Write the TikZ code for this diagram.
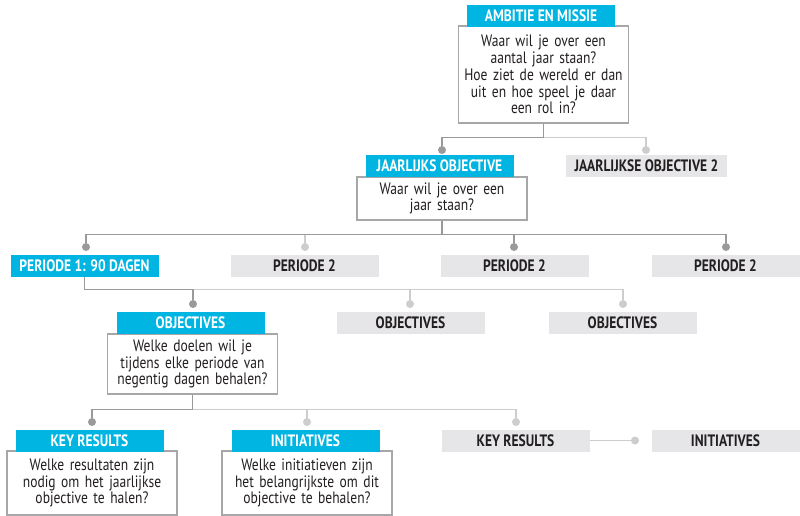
\documentclass[tikz,border=0pt]{standalone}
\usepackage{fontspec}
\setmainfont{PT Sans}[FakeStretch=0.82]
\usetikzlibrary{positioning}

\definecolor{okrblue}{HTML}{00B5E2}
\definecolor{okrgrey}{HTML}{E6E6E8}
\definecolor{okrtext}{HTML}{231F20}
\definecolor{linedark}{HTML}{9A9A9C}
\definecolor{linelight}{HTML}{CDCDCF}
\definecolor{boxline}{HTML}{A7A7A9}

\tikzset{
  head/.style={minimum width=148pt, minimum height=22pt, inner sep=0pt, font=\bfseries\fontsize{16.5}{18}\selectfont},
  bluehead/.style={head, fill=okrblue, text=white},
  greyhead/.style={head, fill=okrgrey, text=okrtext},
  question/.style={draw=boxline, line width=1.3pt, fill=white, text=okrtext, text width=162pt, align=center, inner sep=4pt, font=\fontsize{16.5}{16.8}\selectfont},
  darkdot/.style={circle, fill=linedark, inner sep=0pt, minimum size=8pt},
  lightdot/.style={circle, fill=linelight, inner sep=0pt, minimum size=8pt},
  darkline/.style={draw=linedark, line width=1.4pt},
  lightline/.style={draw=linelight, line width=1.4pt}
}

\begin{document}
\begin{tikzpicture}[x=1pt, y=-1pt]
        \useasboundingbox (0,0) rectangle (800,516);

        % ambitie
        \node[question, minimum height=97pt] (ambq) at (543.5,74.5) {Waar wil je over een\\ aantal jaar staan?\\ Hoe ziet de wereld er dan\\ uit en hoe speel je daar\\ een rol in?};
        \node[bluehead] (amb) at (541,16) {AMBITIE EN MISSIE};

        % jaar
        \node[question, minimum height=43pt] (jaarq) at (442,198.5) {Waar wil je over een\\ jaar staan?};
        \node[bluehead] (jaar) at (439.5,166) {JAARLIJKS OBJECTIVE};
        \node[greyhead, minimum width=161pt] (jaar2) at (646.5,166) {JAARLIJKSE OBJECTIVE 2};

        % periodes
        \node[bluehead] (per1) at (84.5,265.5) {PERIODE 1: 90 DAGEN};
        \node[greyhead] (per2) at (304.5,265.5) {PERIODE 2};
        \node[greyhead] (per3) at (514.5,265.5) {PERIODE 2};
        \node[greyhead] (per4) at (725.5,265.5) {PERIODE 2};

        % objectives
        \node[question, minimum height=60pt] (objq) at (192.5,364) {Welke doelen wil je\\ tijdens elke periode van\\ negentig dagen behalen?};
        \node[bluehead] (obj) at (190.5,323) {OBJECTIVES};
        \node[greyhead] (obj2) at (410.5,323) {OBJECTIVES};
        \node[greyhead] (obj3) at (622.5,323) {OBJECTIVES};

        % key results en initiatives
        \node[question, minimum height=64pt] (krq) at (92,483) {Welke resultaten zijn\\ nodig om het jaarlijkse\\ objective te halen?};
        \node[bluehead] (kr) at (89.5,440.5) {KEY RESULTS};
        \node[question, minimum height=64pt] (iniq) at (307,483) {Welke initiatieven zijn\\ het belangrijkste om dit\\ objective te behalen?};
        \node[bluehead] (ini) at (305.5,440.5) {INITIATIVES};
        \node[greyhead] (kr2) at (515.5,440.5) {KEY RESULTS};
        \node[greyhead] (ini2) at (725.5,440.5) {INITIATIVES};

        % dots
        \node[darkdot] (d-jaar) at (442,150) {};
        \node[lightdot] (d-jaar2) at (646,150) {};
        \node[darkdot] (d-per1) at (86,247) {};
        \node[lightdot] (d-per2) at (305,247) {};
        \node[darkdot] (d-per3) at (514,247) {};
        \node[darkdot] (d-per4) at (726,247) {};
        \node[darkdot] (d-obj) at (193,304) {};
        \node[lightdot] (d-obj2) at (410,304) {};
        \node[lightdot] (d-obj3) at (623,304) {};
        \node[darkdot] (d-kr) at (92,422) {};
        \node[lightdot] (d-ini) at (307,422) {};
        \node[lightdot] (d-kr2) at (516,422) {};
        \node[lightdot] (d-ini2) at (635,440.5) {};

        % connectors
        \draw[lightline] (ambq.south) ++(0,14) -| (d-jaar2);
        \draw[darkline] (ambq.south) -- ++(0,14) -| (d-jaar);
        \draw[lightline] (jaarq.south) ++(0,14) -| (d-per2);
        \draw[darkline] (jaarq.south) -- ++(0,14) -| (d-per1);
        \draw[darkline] (jaarq.south) ++(0,14) -| (d-per3);
        \draw[darkline] (jaarq.south) ++(0,14) -| (d-per4);
        \draw[lightline] (per1.south) ++(0,13) -| (d-obj2);
        \draw[lightline] (per1.south) ++(0,13) -| (d-obj3);
        \draw[darkline] (per1.south) -- ++(0,13) -| (d-obj);
        \draw[lightline] (objq.south) ++(0,15) -| (d-ini);
        \draw[lightline] (objq.south) ++(0,15) -| (d-kr2);
        \draw[darkline] (objq.south) -- ++(0,15) -| (d-kr);
        \draw[lightline] (kr2.east) -- (d-ini2);
      \end{tikzpicture}
\end{document}
